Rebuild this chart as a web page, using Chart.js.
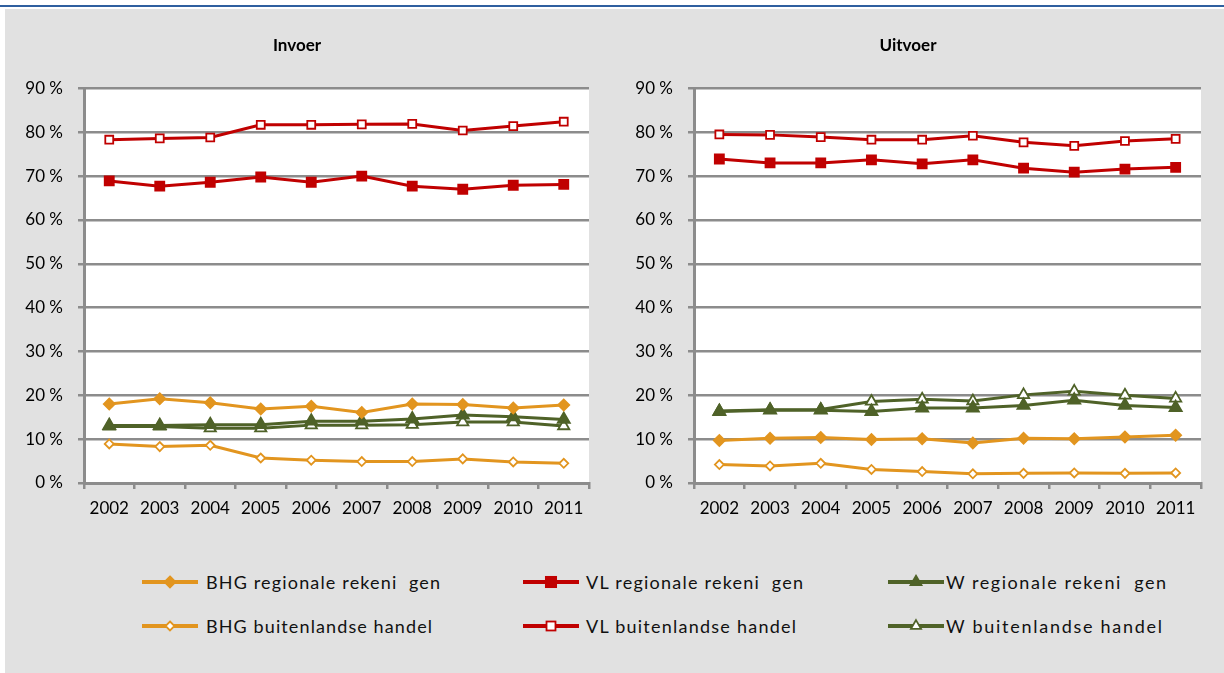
<!DOCTYPE html>
<html>
<head>
<meta charset="utf-8">
<script src="https://cdn.jsdelivr.net/npm/chart.js@4"></script>
<style>
  html, body { margin:0; padding:0; background:#fff; }
  body { width:1224px; height:673px; position:relative; overflow:hidden; font-family: Lato, "Open Sans", sans-serif; }
  #topline { position:absolute; left:0; top:5px; width:1224px; height:2px; background:#2f5f9f; }
  #panel { position:absolute; left:5px; top:9px; width:1219px; height:664px; background:#e1e1e1; }
  canvas { position:absolute; }
  #c1 { left:5px; top:9px; }
  #c2 { left:615px; top:9px; }
  .lg { position:absolute; height:24px; }
  .lg svg { position:absolute; left:0; top:0; }
  .lg span { position:absolute; top:0; line-height:24px; font-size:18px; color:#111; white-space:pre; font-family: Lato, sans-serif; }
</style>
</head>
<body>
<div id="topline"></div>
<div id="panel"></div>
<canvas id="c1" width="605" height="530"></canvas>
<canvas id="c2" width="609" height="530"></canvas>
<div id="legend"></div>
<script>
const years = ['2002','2003','2004','2005','2006','2007','2008','2009','2010','2011'];
const yTickLabels = ['0 %','10 %','20 %','30 %','40 %','50 %','60 %','70 %','80 %','90 %'];
const seriesNames = ['BHG regionale rekeni  gen','BHG buitenlandse handel','VL regionale rekeni  gen','VL buitenlandse handel','W regionale rekeni  gen','W buitenlandse handel'];

// Invoer
const inBhgReg = [18.0,19.2,18.3,16.9,17.5,16.1,18.0,17.9,17.1,17.8];
const inBhgBui = [8.9,8.3,8.6,5.7,5.2,4.9,4.9,5.5,4.8,4.5];
const inVlReg  = [68.9,67.7,68.6,69.8,68.6,70.0,67.7,67.0,67.9,68.1];
const inVlBui  = [78.3,78.6,78.8,81.7,81.7,81.8,81.9,80.4,81.4,82.4];
const inWReg   = [13.1,13.1,13.3,13.3,14.1,14.1,14.6,15.5,15.1,14.5];
const inWBui   = [12.9,12.9,12.5,12.5,13.2,13.2,13.3,13.9,13.9,13.0];

// Uitvoer
const outBhgReg = [9.7,10.2,10.4,9.9,10.1,9.1,10.2,10.1,10.5,10.9];
const outBhgBui = [4.2,3.9,4.5,3.1,2.6,2.1,2.2,2.3,2.2,2.3];
const outVlReg  = [73.9,73.0,73.0,73.7,72.8,73.7,71.8,70.9,71.6,72.0];
const outVlBui  = [79.5,79.4,78.9,78.3,78.3,79.2,77.7,76.9,78.0,78.5];
const outWReg   = [16.3,16.6,16.6,16.3,17.1,17.1,17.7,18.9,17.7,17.2];
const outWBui   = [16.4,16.7,16.75,18.6,19.1,18.7,20.1,20.9,20.0,19.3];

const ORANGE = '#e2951f', RED = '#c00000', GREEN = '#4f6228', GRID = '#8c8c8c';
const FONT = 'Lato, "Open Sans", sans-serif';

const styles = [
  {color:ORANGE, pointStyle:'rectRot', radius:5.5, fill:ORANGE},
  {color:ORANGE, pointStyle:'rectRot', radius:4.5, fill:'#ffffff'},
  {color:RED, pointStyle:'rect', radius:6.4, fill:RED},
  {color:RED, pointStyle:'rect', radius:5.6, fill:'#ffffff'},
  {color:GREEN, pointStyle:'triangle', radius:7, fill:GREEN},
  {color:GREEN, pointStyle:'triangle', radius:6.5, fill:'#ffffff'}
];

function mkDatasets(arrs){
  return arrs.map((d,i)=>({
    label: seriesNames[i],
    data: d,
    borderColor: styles[i].color,
    backgroundColor: styles[i].fill,
    borderWidth: 3,
    pointStyle: styles[i].pointStyle,
    pointRadius: styles[i].radius,
    pointHoverRadius: styles[i].radius,
    pointBorderColor: styles[i].color,
    pointBackgroundColor: styles[i].fill,
    pointBorderWidth: 1.8,
    tension: 0
  }));
}

const bgPlugin = {
  id:'plotBg',
  beforeDraw(chart){
    const {ctx, chartArea:a} = chart;
    ctx.save(); ctx.fillStyle = '#ffffff';
    ctx.fillRect(a.left, a.top, a.right-a.left, a.bottom-a.top);
    ctx.restore();
  }
};

function mkChart(id, title, arrs, padRight){
  return new Chart(document.getElementById(id), {
    type:'line',
    data:{ labels: years, datasets: mkDatasets(arrs) },
    plugins:[bgPlugin],
    options:{
      responsive:false, animation:false, devicePixelRatio:1,
      layout:{ padding:{left:0, right:padRight, top:0, bottom:0} },
      plugins:{
        legend:{display:false}, tooltip:{enabled:false},
        title:{ display:true, text:title, color:'#000', font:{family:FONT, size:17, weight:'bold'}, padding:{top:26, bottom:33} }
      },
      scales:{
        x:{
          offset:true,
          grid:{ offset:true, drawOnChartArea:false, drawTicks:true, tickLength:6, color:GRID, lineWidth:2.5 },
          border:{ color:GRID, width:3 },
          ticks:{ color:'#000', font:{family:FONT, size:17}, padding:9, maxRotation:0, autoSkip:false },
          afterFit(s){ s.height = 56; }
        },
        y:{
          min:0, max:90,
          grid:{ color:GRID, lineWidth:2.5, tickLength:6, drawTicks:true },
          border:{ color:GRID, width:3 },
          ticks:{ stepSize:10, color:'#000', font:{family:FONT, size:17}, padding:15,
                  callback:(v,i)=>yTickLabels[i] },
          afterFit(s){ s.width = 79; }
        }
      }
    }
  });
}

mkChart('c1','Invoer',[inBhgReg,inBhgBui,inVlReg,inVlBui,inWReg,inWBui],21);
mkChart('c2','Uitvoer',[outBhgReg,outBhgBui,outVlReg,outVlBui,outWReg,outWBui],23);

// legend (column-major: col = region, row = source)
const legendPos = [
  {lx:142, tx:206, y:582, w:234},
  {lx:142, tx:206, y:626, w:226},
  {lx:523, tx:586, y:582, w:217},
  {lx:523, tx:586, y:626, w:210},
  {lx:888, tx:946, y:582, w:220},
  {lx:888, tx:946, y:626, w:216}
];
const lg = document.getElementById('legend');
function markerSvg(s){
  const cx = 28, cy = 12;
  let m = '';
  if (s.pointStyle==='rectRot'){
    const r = s.radius;
    m = `<polygon points="${cx},${cy-r} ${cx+r},${cy} ${cx},${cy+r} ${cx-r},${cy}" fill="${s.fill}" stroke="${s.color}" stroke-width="1.8"/>`;
  } else if (s.pointStyle==='rect'){
    const h = s.radius*0.8;
    m = `<rect x="${cx-h}" y="${cy-h}" width="${2*h}" height="${2*h}" fill="${s.fill}" stroke="${s.color}" stroke-width="1.8"/>`;
  } else {
    const r = s.radius*0.9;
    m = `<polygon points="${cx},${cy-r} ${cx+r*0.866},${cy+r/2} ${cx-r*0.866},${cy+r/2}" fill="${s.fill}" stroke="${s.color}" stroke-width="1.8"/>`;
  }
  return `<svg width="58" height="24"><line x1="0" y1="${cy}" x2="56" y2="${cy}" stroke="${s.color}" stroke-width="4"/>${m}</svg>`;
}
seriesNames.forEach((name,i)=>{
  const p = legendPos[i];
  const d = document.createElement('div');
  d.className = 'lg';
  d.style.left = p.lx + 'px';
  d.style.top = (p.y - 12) + 'px';
  d.innerHTML = markerSvg(styles[i]) + `<span style="left:${p.tx - p.lx}px">${name}</span>`;
  lg.appendChild(d);
  const sp = d.querySelector('span');
  const nat = sp.getBoundingClientRect().width;
  const ls = (p.w - nat) / Math.max(1, name.length - 1);
  sp.style.letterSpacing = ls.toFixed(2) + 'px';
});
</script>
</body>
</html>
